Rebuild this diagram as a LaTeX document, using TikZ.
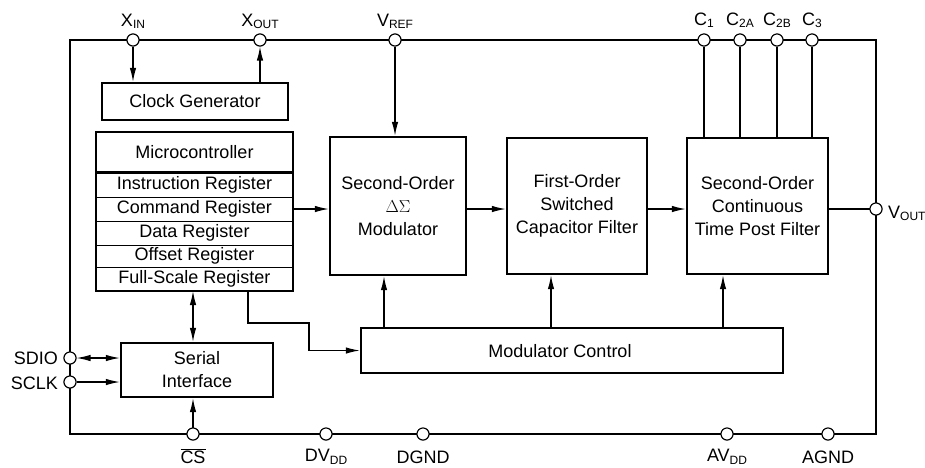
\documentclass[tikz,border=0pt]{standalone}
\usepackage{fontspec}
\setmainfont{Liberation Sans}
\usetikzlibrary{arrows.meta}
\newcommand\sbs[1]{\raisebox{-0.3ex}{\fontsize{12}{12}\selectfont #1}}
\begin{document}
\begin{tikzpicture}[x=1pt,y=-1pt,
  font=\fontsize{18}{23}\selectfont,
  box/.style={draw,line width=2.4pt,inner sep=0pt,align=center},
  reg/.style={draw,line width=1pt,inner sep=0pt,outer sep=0pt,minimum width=197pt,minimum height=24pt},
  pin/.style={circle,draw,line width=1pt,fill=white,minimum size=12pt,inner sep=0pt},
  wire/.style={line width=1.2pt},
  arr/.style={wire,-{Latex[length=14pt,width=6.5pt]}},
  darr/.style={wire,{Latex[length=14pt,width=6.5pt]}-{Latex[length=14pt,width=6.5pt]}},
  lab/.style={inner sep=0pt}]
\useasboundingbox (0,0) rectangle (925,467);

% chip frame
\node[draw,line width=2.6pt,minimum width=806pt,minimum height=394pt,inner sep=0pt] (chip) at (473,237) {};

% blocks
\node[box,minimum width=186pt,minimum height=37pt] (clk) at (195,101.5) {Clock Generator};

\node[reg,minimum height=40pt] (hdr) at (194.5,152) {Microcontroller};
\node[reg] (ir) at (194.5,185) {Instruction Register};
\node[reg,minimum height=24pt] (cr) at (194.5,209) {Command Register};
\node[reg] (dr) at (194.5,233) {Data Register};
\node[reg,minimum height=22pt] (or) at (194.5,256) {Offset Register};
\node[reg] (fs) at (194.5,279) {Full-Scale Register};
\draw[line width=2.4pt] (hdr.north west) rectangle (fs.south east);
\draw[line width=2pt] (hdr.south west) -- (hdr.south east);

\node[box,minimum width=136pt,minimum height=138pt] (mod) at (398,206) {Second-Order\\$\Delta\Sigma$\\Modulator};
\node[box,minimum width=140pt,minimum height=136pt] (filt) at (577,206) {First-Order\\Switched\\Capacitor Filter};
\node[box,minimum width=141pt,minimum height=136pt] (post) at (757.5,206) {Second-Order\\Continuous\\Time Post Filter};
\node[box,minimum width=422pt,minimum height=45pt] (mc) at (572,350.5) {};
\node[lab] (mclab) at (560,351) {Modulator Control};
\node[box,minimum width=152pt,minimum height=54pt] (ser) at (197,370) {Serial\\Interface};

% pins
\node[pin] (xin) at (133,40) {};
\node[pin] (xout) at (260,40) {};
\node[pin] (vref) at (395,40) {};
\node[pin] (c1) at (704,40) {};
\node[pin] (c2a) at (740,40) {};
\node[pin] (c2b) at (777,40) {};
\node[pin] (c3) at (812,40) {};
\node[pin] (vout) at (876,209) {};
\node[pin] (sdio) at (70,358) {};
\node[pin] (sclk) at (70,382) {};
\node[pin] (cs) at (193,434) {};
\node[pin] (dvdd) at (326,434) {};
\node[pin] (dgnd) at (423,434) {};
\node[pin] (avdd) at (727,434) {};
\node[pin] (agnd) at (828,434) {};

% pin labels
\node[lab,anchor=base] at ([yshift=14pt]xin.center) {X\sbs{IN}};
\node[lab,anchor=base] at ([yshift=14pt]xout.center) {X\sbs{OUT}};
\node[lab,anchor=base] at ([yshift=14pt]vref.center) {V\sbs{REF}};
\node[lab,anchor=base] at ([yshift=15pt]c1.center) {C\sbs{1}};
\node[lab,anchor=base] at ([yshift=15pt]c2a.center) {C\sbs{2A}};
\node[lab,anchor=base] at ([yshift=15pt]c2b.center) {C\sbs{2B}};
\node[lab,anchor=base] at ([yshift=15pt]c3.center) {C\sbs{3}};
\node[lab,anchor=base west] at ([xshift=12pt,yshift=-9pt]vout.center) {V\sbs{OUT}};
\node[lab,anchor=base east] at ([xshift=-12pt,yshift=-6.5pt]sdio.center) {SDIO};
\node[lab,anchor=base east] at ([xshift=-12pt,yshift=-7pt]sclk.center) {SCLK};
\node[lab,anchor=base] at ([yshift=-29pt]cs.center) {$\overline{\mbox{CS}}$};
\node[lab,anchor=base] at ([yshift=-27.5pt]dvdd.center) {DV\sbs{DD}};
\node[lab,anchor=base] at ([yshift=-29pt]dgnd.center) {DGND};
\node[lab,anchor=base] at ([yshift=-27.5pt]avdd.center) {AV\sbs{DD}};
\node[lab,anchor=base] at ([yshift=-29pt]agnd.center) {AGND};

% connectors
\draw[arr] (xin) -- (clk.north -| xin);
\draw[arr] (clk.north -| xout) -- (xout);
\draw[arr] (vref) -- (mod.north -| vref);
\foreach \p in {c1,c2a,c2b,c3} \draw[wire] (\p) -- (post.north -| \p);

\draw[arr] (cr.east) -- (mod.west |- cr.east);
\draw[arr] (mod.east |- cr.east) -- (filt.west |- cr.east);
\draw[arr] (filt.east |- cr.east) -- (post.west |- cr.east);
\draw[wire] (post.east |- vout) -- (vout);

\coordinate (u1) at (384,0);
\coordinate (u2) at (551,0);
\coordinate (u3) at (723,0);
\draw[arr] (mc.north -| u1) -- (mod.south -| u1);
\draw[arr] (mc.north -| u2) -- (filt.south -| u2);
\draw[arr] (mc.north -| u3) -- (post.south -| u3);

\coordinate (k1) at (248,323);
\coordinate (k2) at (309,350.5);
\draw[wire] (fs.south -| k1) -- (k1) -| (k2);
\draw[arr] (k2) -- (mc.west);

\coordinate (bx) at (193,0);
\draw[darr] (fs.south -| bx) -- (ser.north -| bx);
\draw[darr] (sdio) -- (ser.west |- sdio);
\draw[arr] (sclk) -- (ser.west |- sclk);
\draw[arr] (cs) -- (ser.south -| cs);

% redraw pins on top
\foreach \p in {xin,xout,vref,c1,c2a,c2b,c3,vout,sdio,sclk,cs,dvdd,dgnd,avdd,agnd}
  \draw[line width=1pt,fill=white] (\p.center) circle (6pt);
\end{tikzpicture}
\end{document}
